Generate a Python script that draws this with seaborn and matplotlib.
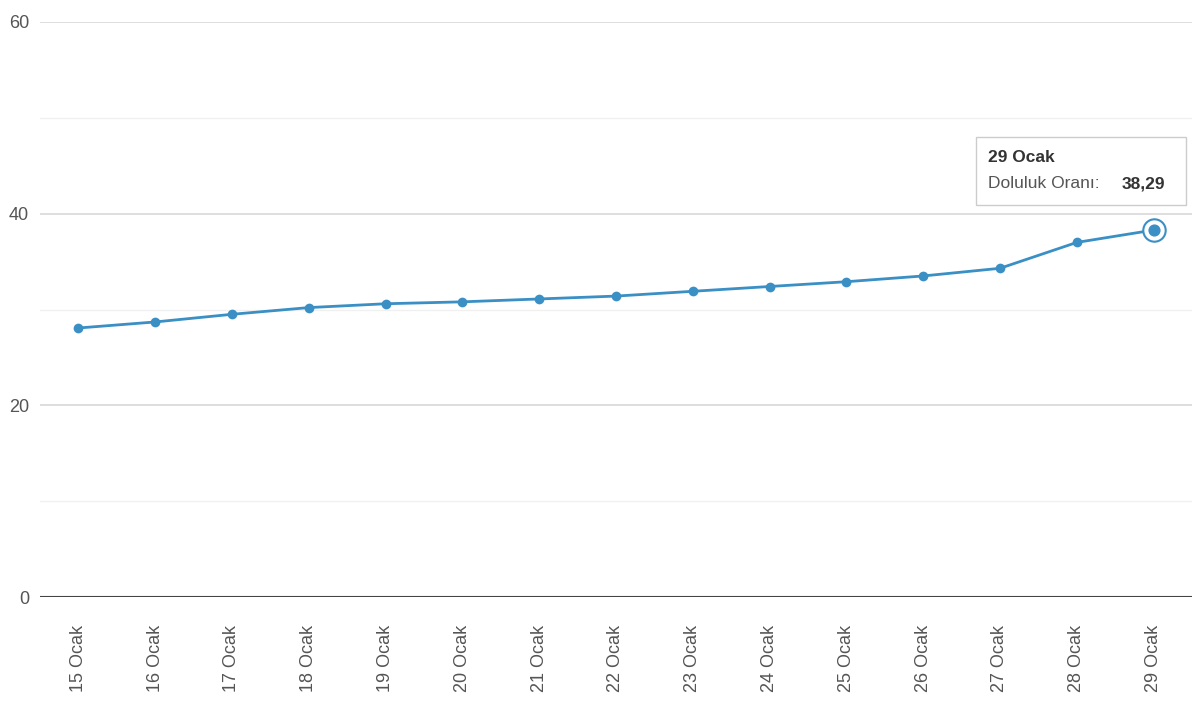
import matplotlib.pyplot as plt
import seaborn as sns
import pandas as pd
from matplotlib.patches import FancyBboxPatch

days = [f"{d} Ocak" for d in range(15, 30)]
values = [28.07, 28.7, 29.5, 30.2, 30.6, 30.8, 31.1, 31.4, 31.9, 32.4,
          32.9, 33.5, 34.3, 37.0, 38.29]
df = pd.DataFrame({"day": days, "value": values})

sns.set_style("white")
plt.rcParams['font.family'] = ['Liberation Sans', 'DejaVu Sans']

fig = plt.figure(figsize=(12, 7.18), dpi=100)
ax = fig.add_axes([40 / 1200, 1 - 597 / 718, 1152 / 1200, 575 / 718])

line_color = "#3a8fc4"
x = list(range(len(days)))
sns.lineplot(x=x, y=df["value"], ax=ax, color=line_color, linewidth=2,
             marker="o", markersize=7, markeredgewidth=0)

# highlighted last point
ax.scatter([x[-1]], [values[-1]], s=260, facecolor="white",
           edgecolor=line_color, linewidth=1.5, zorder=4)
ax.scatter([x[-1]], [values[-1]], s=60, color=line_color, zorder=5)

ax.set_xlim(-0.5, len(days) - 0.5)
ax.set_ylim(0, 60)
for v in [10, 30, 50]:
    ax.axhline(v, color="#f0f0f0", linewidth=1, zorder=0)
for v in [20, 40, 60]:
    ax.axhline(v, color="#d8d8d8", linewidth=1.2, zorder=0)
ax.axhline(0, color="#444444", linewidth=1.5, zorder=1)

ax.set_yticks([0, 20, 40, 60])
ax.set_yticklabels(["0", "20", "40", "60"], fontsize=13, color="#555555")
ax.set_xticks(x)
ax.set_xticklabels(days, rotation=90, fontsize=13, color="#555555")
ax.tick_params(axis="x", length=0, pad=20)
ax.tick_params(axis="y", length=0, pad=8)
for s in ax.spines.values():
    s.set_visible(False)
ax.set_xlabel("")
ax.set_ylabel("")

# tooltip
box = FancyBboxPatch((976 / 1200, 1 - 205 / 718), 210 / 1200, 68 / 718,
                     boxstyle="square,pad=0", transform=fig.transFigure,
                     facecolor="white", edgecolor="#cccccc", linewidth=1,
                     zorder=10)
fig.patches.append(box)
fig.text(988 / 1200, 1 - 157 / 718, "29 Ocak", fontsize=12.5,
         fontweight="bold", color="#333333", va="center", zorder=11)
fig.text(988 / 1200, 1 - 184 / 718, "Doluluk Oranı: ", fontsize=12.5,
         color="#555555", va="center", zorder=11)
fig.text(1122 / 1200, 1 - 184 / 718, "38,29", fontsize=12.5,
         fontweight="bold", color="#333333", va="center", zorder=11)

fig.savefig("out.png", dpi=100)
